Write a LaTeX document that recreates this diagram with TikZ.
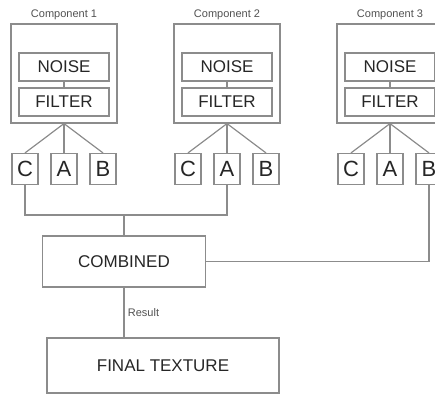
\documentclass[tikz,border=0pt]{standalone}
\usepackage{fontspec}
\setmainfont{Liberation Sans}
\usetikzlibrary{positioning, calc}
\definecolor{cline}{HTML}{8C8C8C}
\definecolor{ctext}{HTML}{262626}
\tikzset{
  every picture/.style={line width=1.2pt},
  frame/.style={draw=cline, minimum width=106pt, minimum height=99pt},
  stage/.style={draw=cline, text=ctext, minimum width=90pt, minimum height=28pt, inner sep=0pt, font=\fontsize{17}{20}\selectfont},
  letter/.style={draw=cline, text=ctext, minimum width=26pt, minimum height=31pt, inner sep=0pt, font=\fontsize{22}{24}\selectfont},
  bigbox/.style={draw=cline, text=ctext, inner sep=0pt, font=\fontsize{17}{20}\selectfont},
  small/.style={text=ctext!80, font=\fontsize{11}{12}\selectfont},
  wire/.style={draw=cline, line width=1.2pt},
}
\begin{document}
\begin{tikzpicture}[x=1pt, y=-1pt]
  \useasboundingbox (0,0) rectangle (435,394);
  % components
  \foreach \i/\cx in {1/64,2/227,3/390} {
    \node[frame] (comp\i) at (\cx,73.5) {};
    \node[small, above=0pt of comp\i] (title\i) {Component \i};
    \node[stage] (noise\i) at (\cx,67) {NOISE};
    \node[stage] (filter\i) at (\cx,102) {FILTER};
    \draw[wire] (noise\i) -- (filter\i);
    \node[letter] (C\i) at (\cx-39,169) {C};
    \node[letter] (A\i) at (\cx,169) {A};
    \node[letter] (B\i) at (\cx+39,169) {B};
    \foreach \l in {C,A,B} \draw[wire] (comp\i.south) -- (\l\i.north);
  }
  % merge
  \coordinate (join) at (124,215);
  \node[bigbox, minimum width=163pt, minimum height=51pt] (comb) at (124,261.5) {COMBINED};
  \node[bigbox, minimum width=232pt, minimum height=55pt] (final) at (163,365.5) {FINAL TEXTURE};
  \draw[wire] (C1.south) |- (A2.south |- join) -- (A2.south);
  \draw[wire] (join) -- (comb.north);
  \draw[wire] (comb.east) -| (B3.south);
  \draw[wire] (comb.south) -- (comb.south |- final.north) node[small, midway, right] {Result};
\end{tikzpicture}
\end{document}
